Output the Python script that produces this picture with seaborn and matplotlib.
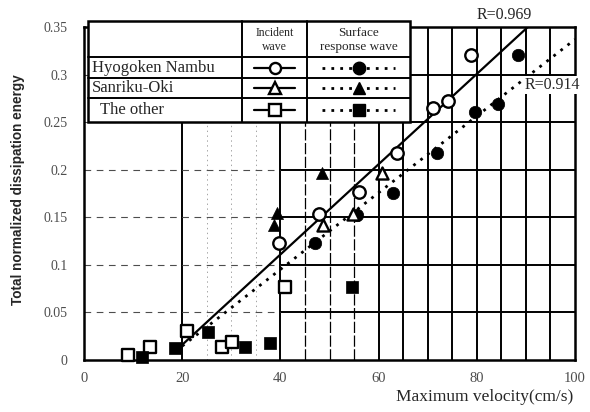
import matplotlib
matplotlib.use("Agg")
import matplotlib.pyplot as plt
from matplotlib.patches import Rectangle
from matplotlib.lines import Line2D
from matplotlib.ticker import MultipleLocator
import seaborn as sns

# Hyogoken Nambu earthquake
hyogo_inc_x = [39.7, 47.9, 56.0, 63.7, 71.1, 74.1, 78.8]
hyogo_inc_y = [0.123, 0.153, 0.177, 0.218, 0.265, 0.272, 0.321]
hyogo_srf_x = [47.0, 55.6, 63.0, 71.9, 79.6, 84.3, 88.4]
hyogo_srf_y = [0.123, 0.152, 0.176, 0.218, 0.261, 0.269, 0.321]
# Sanriku-Oki earthquake
sanriku_inc_x = [48.7, 54.8, 60.7]
sanriku_inc_y = [0.142, 0.153, 0.197]
sanriku_srf_x = [38.6, 39.4, 48.5]
sanriku_srf_y = [0.142, 0.155, 0.197]
# other records
other_inc_x = [9.0, 13.4, 21.0, 28.1, 30.1, 41.0]
other_inc_y = [0.005, 0.014, 0.030, 0.014, 0.019, 0.077]
other_srf_x = [11.8, 18.5, 25.3, 32.8, 37.9, 54.6]
other_srf_y = [0.003, 0.013, 0.029, 0.014, 0.018, 0.077]

# regression lines
fit_inc_x = [20.0, 90.4]
fit_inc_y = [0.016, 0.350]
fit_srf_x = [20.0, 100.0]
fit_srf_y = [0.0146, 0.337]
r_labels = ["R=0.969", "R=0.914"]

x_ticks = [0, 20, 40, 60, 80, 100]
y_ticks = [0, 0.05, 0.1, 0.15, 0.2, 0.25, 0.3, 0.35]
y_tick_labels = ["0", "0.05", "0.1", "0.15", "0.2", "0.25", "0.3", "0.35"]

sns.set_style("white")
plt.rcParams["font.family"] = ["Liberation Serif", "DejaVu Serif"]

W, H = 590, 412
fig = plt.figure(figsize=(W / 100, H / 100), dpi=100)
ax = fig.add_axes([84 / W, 1 - 360 / H, (575 - 84) / W, (360 - 27) / H])
ax.set_xlim(0, 100)
ax.set_ylim(0, 0.35)

# grid
for gx in [20, 40, 60, 65, 70, 75, 80, 85, 90, 95]:
    ax.axvline(gx, color="black", lw=1.4, zorder=1)
for gx in [45, 50, 55]:
    ax.axvline(gx, color="black", lw=0.9, ls=(0, (9, 2)), zorder=1)
for gx in [25, 30, 35]:
    ax.axvline(gx, color="0.5", lw=0.5, ls=(0, (2, 5)), zorder=1)
for gy in [0.05, 0.1, 0.15, 0.2, 0.25, 0.3]:
    ax.hlines(gy, 40, 100, color="black", lw=1.4, zorder=1)
    ax.hlines(gy, 0, 40, color="0.3", lw=0.8, ls=(0, (6, 5)), zorder=1)

# regression lines
sns.lineplot(x=fit_inc_x, y=fit_inc_y, color="black", lw=1.6, ax=ax, zorder=3)
sns.lineplot(x=fit_srf_x, y=fit_srf_y, color="black", lw=2.0,
             ls=(0, (1, 2.2)), ax=ax, zorder=3)

open_kw = dict(color="white", edgecolor="black", linewidth=1.7, zorder=5,
               clip_on=False, legend=False)
fill_kw = dict(color="black", edgecolor="black", linewidth=0.5, zorder=5,
               clip_on=False, legend=False)
sns.scatterplot(x=hyogo_inc_x, y=hyogo_inc_y, marker="o", s=80, ax=ax, **open_kw)
sns.scatterplot(x=hyogo_srf_x, y=hyogo_srf_y, marker="o", s=80, ax=ax, **fill_kw)
sns.scatterplot(x=sanriku_inc_x, y=sanriku_inc_y, marker="^", s=75, ax=ax, **open_kw)
sns.scatterplot(x=sanriku_srf_x, y=sanriku_srf_y, marker="^", s=75, ax=ax, **fill_kw)
sns.scatterplot(x=other_inc_x, y=other_inc_y, marker="s", s=65, ax=ax, **open_kw)
sns.scatterplot(x=other_srf_x, y=other_srf_y, marker="s", s=80, ax=ax, **fill_kw)

ax.text(85.5, 0.3625, r_labels[0], fontsize=11.5, ha="center", va="center",
        clip_on=False)
ax.text(95.3, 0.289, r_labels[1], fontsize=11.5, ha="center", va="center",
        bbox=dict(facecolor="white", edgecolor="none", pad=0.5), zorder=4)

# axes styling
for sp in ax.spines.values():
    sp.set_linewidth(1.8)
    sp.set_color("black")
ax.set_xticks(x_ticks)
ax.xaxis.set_minor_locator(MultipleLocator(5))
ax.set_yticks(y_ticks)
ax.set_yticklabels(y_tick_labels)
ax.tick_params(which="both", direction="in", width=1.5, color="black",
               labelcolor="0.3")
ax.tick_params(which="major", length=5)
ax.tick_params(which="minor", length=4)
ax.tick_params(axis="x", labelsize=10.5, pad=9)
ax.tick_params(axis="y", labelsize=10, pad=12)
ax.set_xlabel("")
ax.set_ylabel("")

fig.text(18 / W, 1 - 190 / H, "Total normalized dissipation energy",
         rotation=90, ha="center", va="center", fontsize=9.8,
         fontweight="bold", family=["Liberation Sans", "DejaVu Sans"])
fig.text(485 / W, 1 - 397 / H, "Maximum velocity(cm/s)", ha="center",
         va="center", fontsize=12.5)

# legend table drawn in pixel coordinates
ov = fig.add_axes([0, 0, 1, 1], zorder=10)
ov.set_xlim(0, W)
ov.set_ylim(H, 0)
ov.set_axis_off()
left, right, top, bottom = 88, 410, 21, 122
col1, col2 = 242, 307
rows = [57, 78, 98]
ov.add_patch(Rectangle((left, top), right - left, bottom - top,
                       facecolor="white", edgecolor="black", lw=1.8))
for r in rows:
    ov.plot([left, right], [r, r], color="black", lw=1.4)
for c in [col1, col2]:
    ov.plot([c, c], [top, bottom], color="black", lw=1.4)
ov.text((col1 + col2) / 2, 40, "Incident\nwave", ha="center", va="center",
        fontsize=8.5, linespacing=1.3)
ov.text((col2 + right) / 2, 40, "Surface\nresponse wave", ha="center",
        va="center", fontsize=9.5, linespacing=1.3)
names = ["Hyogoken Nambu", "Sanriku-Oki", "  The other"]
markers = ["o", "^", "s"]
centers = [(57 + 78) / 2, (78 + 98) / 2, (98 + 122) / 2]
for name, mk, cy in zip(names, markers, centers):
    ov.text(left + 4, cy, name, ha="left", va="center", fontsize=12)
    ov.add_line(Line2D([col1 + 12, col2 - 12], [cy, cy], color="black", lw=1.6))
    ov.add_line(Line2D([(col1 + col2) / 2], [cy], marker=mk, markersize=8,
                       markerfacecolor="white", markeredgecolor="black",
                       markeredgewidth=1.7, ls="none"))
    ov.add_line(Line2D([col2 + 15, right - 15], [cy, cy], color="black",
                       lw=2.0, ls=(0, (1, 2.2))))
    ov.add_line(Line2D([(col2 + right) / 2], [cy], marker=mk, markersize=9,
                       markerfacecolor="black", markeredgecolor="black",
                       ls="none"))

fig.savefig("out.png", dpi=100)
